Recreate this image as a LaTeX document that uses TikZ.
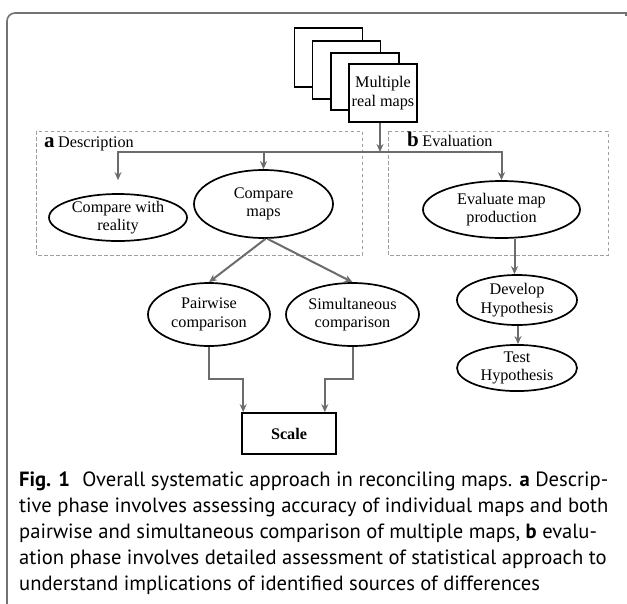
\documentclass[tikz,border=0pt]{standalone}
\usepackage{fontspec}
\setmainfont{Liberation Serif}
\newfontfamily\capfont{PT Sans}
\usetikzlibrary{shapes.geometric,arrows.meta}
\tikzset{
  x=1pt,y=-1pt,
  el/.style={ellipse,draw=black,line width=1.7pt,inner sep=0pt,align=center,font=\fontsize{16.2}{18.5}\selectfont},
  mapbox/.style={draw=black,line width=1.7pt,fill=white,minimum width=68pt,minimum height=58pt,inner sep=0pt},
  arr/.style={draw=gray!85!black,line width=2pt,-{Stealth[length=8pt,width=7pt]}},
  dbox/.style={draw=gray!75,dashed,dash pattern=on 3.5pt off 2.5pt,line width=1pt},
  frame/.style={draw=gray!90!black,line width=1.6pt},
  capline/.style={anchor=base west,inner sep=0pt,font=\capfont\fontsize{20.6}{24}\selectfont}
}
\begin{document}
\begin{tikzpicture}
\useasboundingbox (0,0) rectangle (627,603);
% outer frame
\draw[frame,rounded corners=8pt] (7,606) -- (7,13) -- (624,13);
\draw[frame] (624,13) -- (626,13) -- (626,16);
% dashed boxes
\draw[dbox] (36,131) rectangle (362,255);
\draw[dbox] (388,131) rectangle (608,255);
\node[anchor=base west,inner sep=0pt] (la) at (44,147) {\fontsize{21}{21}\selectfont\textbf{a}\,\fontsize{16.2}{18}\selectfont Description};
\node[anchor=base west,inner sep=0pt] (lb) at (407,146) {\fontsize{21}{21}\selectfont\textbf{b}\,\fontsize{16.2}{18}\selectfont Evaluation};
% stacked maps
\node[mapbox,minimum height=59pt] (m1) at (328.5,57.5) {};
\node[mapbox] (m2) at (346.5,70) {};
\node[mapbox,minimum height=57pt] (m3) at (365,81.5) {};
\node[mapbox,align=center,font=\fontsize{16.2}{18.5}\selectfont] (maps) at (383,93) {Multiple\\real maps};
% ellipses
\node[el,minimum width=138pt,minimum height=37pt] (cwr) at (118,217.5) {Compare with\\reality};
\node[el,minimum width=139pt,minimum height=68pt] (cm) at (263.5,204) {Compare\\maps};
\node[el,minimum width=157pt,minimum height=57pt] (emp) at (501.5,209.5) {Evaluate map\\production};
\node[el,minimum width=122pt,minimum height=63pt] (pw) at (209,314.5) {Pairwise\\comparison};
\node[el,minimum width=133pt,minimum height=63pt] (sim) at (352.5,314.5) {Simultaneous\\comparison};
\node[el,minimum width=120pt,minimum height=50pt] (dev) at (517,300) {Develop\\Hypothesis};
\node[el,minimum width=120pt,minimum height=46pt] (test) at (517,368) {Test\\Hypothesis};
\node[draw=black,line width=1.7pt,minimum width=94pt,minimum height=41pt,inner sep=0pt,font=\bfseries\fontsize{16.2}{18}\selectfont] (sc) at (289,433.5) {Scale};
% connectors
\coordinate (j) at (380,152);
\coordinate (e1) at ([xshift=13pt]emp.south);
\draw[arr] (maps.south -| j) -- (j);
\draw[arr,shorten >=13pt] (j) -| (cwr.north);
\draw[arr] (j) -| (emp.north);
\draw[arr] (cm.north |- j) -- (cm.north);
\draw[arr] ([xshift=2pt]cm.south) -- (pw.north);
\draw[arr] ([xshift=4pt]cm.south) -- (sim.north);
\draw[arr] (pw.south) -- ++(0,32) -| ([xshift=2pt]sc.north west);
\draw[arr] (sim.south) -- ++(0,32) -| ([xshift=-12pt]sc.north east);
\draw[arr] (e1) -- (dev.north -| e1);
\draw[arr] ([xshift=1pt]dev.south) -- ([xshift=1pt]test.north);
% caption
\node[capline] (c1) at (19,486) {\textbf{Fig. 1}\hspace{0.6em}Overall systematic approach in reconciling maps. \textbf{a} Descrip-};
\node[capline] (c2) at (19,512) {tive phase involves assessing accuracy of individual maps and both};
\node[capline] (c3) at (19,538) {pairwise and simultaneous comparison of multiple maps, \textbf{b} evalu-};
\node[capline] (c4) at (19,564) {ation phase involves detailed assessment of statistical approach to};
\node[capline] (c5) at (19,590) {understand implications of identified sources of differences};
\end{tikzpicture}
\end{document}
